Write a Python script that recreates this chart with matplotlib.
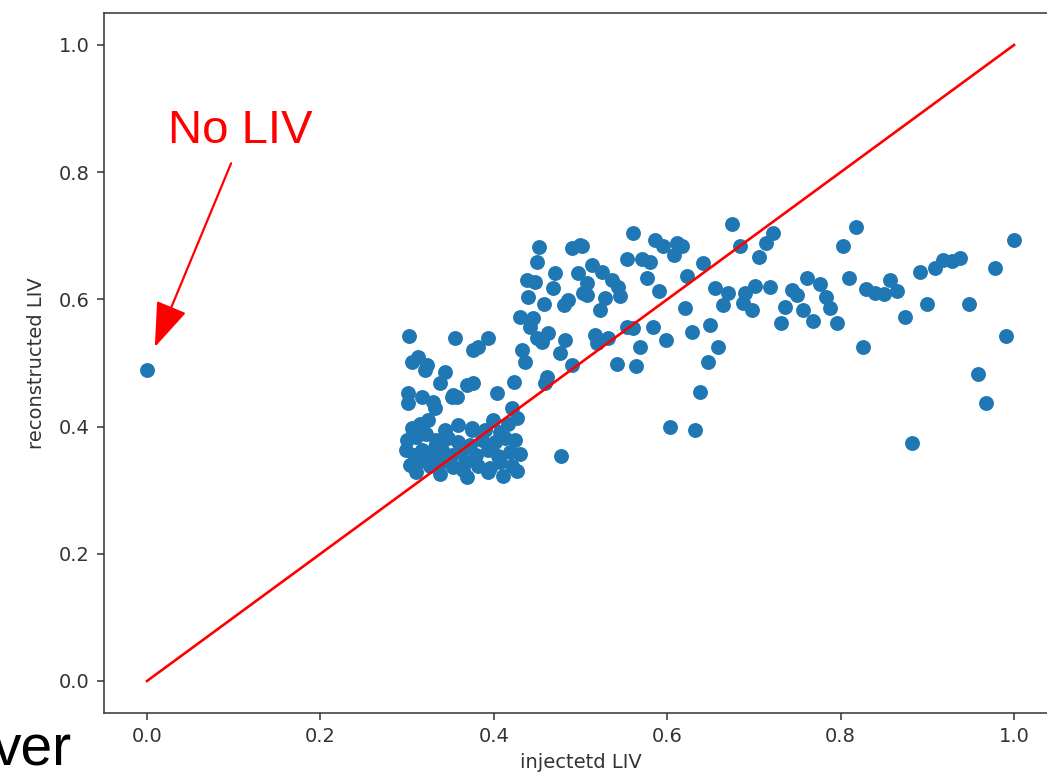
import matplotlib
matplotlib.use("Agg")
import matplotlib.pyplot as plt

# ---- data (injected LIV, reconstructed LIV) ----
x_outlier = [0.000]
y_outlier = [0.489]

x_right = [1.000, 0.978, 0.991, 0.958, 0.968, 0.948, 0.938, 0.928, 0.918, 0.909,
           0.892, 0.900, 0.874, 0.882, 0.857, 0.865, 0.850, 0.840, 0.829, 0.818,
           0.803, 0.810, 0.826, 0.722, 0.714, 0.706, 0.684, 0.701, 0.719, 0.690,
           0.698, 0.687, 0.761, 0.776, 0.744, 0.750, 0.736, 0.757, 0.783, 0.788,
           0.731, 0.768, 0.796]
y_right = [0.693, 0.649, 0.542, 0.483, 0.437, 0.593, 0.665, 0.660, 0.662, 0.649,
           0.643, 0.593, 0.572, 0.374, 0.631, 0.613, 0.608, 0.610, 0.616, 0.714,
           0.684, 0.634, 0.525, 0.704, 0.689, 0.667, 0.684, 0.621, 0.619, 0.610,
           0.583, 0.594, 0.634, 0.624, 0.615, 0.607, 0.588, 0.583, 0.604, 0.586,
           0.563, 0.566, 0.563]

x_mid = [0.675, 0.561, 0.586, 0.595, 0.611, 0.617, 0.608, 0.554, 0.571, 0.580,
         0.641, 0.623, 0.577, 0.591, 0.655, 0.670, 0.664, 0.621, 0.502, 0.513,
         0.525, 0.536, 0.543, 0.546, 0.507, 0.507, 0.528, 0.522, 0.554, 0.561,
         0.584, 0.629, 0.649, 0.599, 0.569, 0.659, 0.647, 0.542, 0.564, 0.517,
         0.519, 0.532, 0.638, 0.603, 0.632]
y_mid = [0.719, 0.704, 0.693, 0.684, 0.689, 0.684, 0.670, 0.664, 0.664, 0.659,
         0.657, 0.637, 0.634, 0.613, 0.618, 0.610, 0.591, 0.586, 0.684, 0.654,
         0.643, 0.631, 0.619, 0.605, 0.626, 0.607, 0.602, 0.583, 0.557, 0.555,
         0.557, 0.549, 0.560, 0.536, 0.525, 0.525, 0.502, 0.498, 0.495, 0.544,
         0.531, 0.539, 0.454, 0.399, 0.395]

x_upper = [0.452, 0.450, 0.490, 0.499, 0.471, 0.497, 0.438, 0.448, 0.468, 0.503,
           0.439, 0.458, 0.481, 0.486, 0.430, 0.445, 0.442, 0.463, 0.450, 0.456,
           0.482, 0.476, 0.433, 0.436, 0.355, 0.393, 0.376, 0.382, 0.490, 0.423,
           0.461, 0.459, 0.344, 0.369, 0.376, 0.404, 0.353, 0.478]
y_upper = [0.682, 0.659, 0.681, 0.686, 0.642, 0.642, 0.631, 0.627, 0.618, 0.610,
           0.604, 0.593, 0.591, 0.599, 0.572, 0.571, 0.557, 0.547, 0.539, 0.533,
           0.536, 0.516, 0.520, 0.502, 0.539, 0.539, 0.520, 0.525, 0.497, 0.470,
           0.478, 0.469, 0.486, 0.465, 0.469, 0.453, 0.450, 0.354]

x_low = [0.302, 0.313, 0.306, 0.323, 0.321, 0.338, 0.352, 0.358, 0.301, 0.301,
         0.317, 0.330, 0.332, 0.421, 0.427, 0.399, 0.375,
         0.306, 0.315, 0.324, 0.344, 0.407, 0.416,
         0.300, 0.310, 0.322, 0.333, 0.347, 0.359, 0.373, 0.386, 0.401, 0.413, 0.424,
         0.299, 0.308, 0.317, 0.329, 0.340, 0.352, 0.363, 0.379, 0.393, 0.405, 0.419, 0.430,
         0.303, 0.315, 0.326, 0.339, 0.353, 0.367, 0.382, 0.396, 0.407, 0.421,
         0.310, 0.338, 0.369, 0.393, 0.411, 0.427,
         0.307, 0.375, 0.390, 0.359, 0.332, 0.364]
y_low = [0.542, 0.509, 0.502, 0.497, 0.489, 0.469, 0.447, 0.447, 0.453, 0.437,
         0.447, 0.439, 0.429, 0.429, 0.414, 0.410, 0.395,
         0.398, 0.404, 0.410, 0.395, 0.392, 0.404,
         0.379, 0.384, 0.388, 0.379, 0.382, 0.376, 0.371, 0.379, 0.376, 0.382, 0.379,
         0.363, 0.355, 0.363, 0.354, 0.363, 0.355, 0.362, 0.355, 0.363, 0.354, 0.360, 0.357,
         0.340, 0.346, 0.338, 0.344, 0.336, 0.344, 0.338, 0.335, 0.344, 0.338,
         0.329, 0.325, 0.321, 0.329, 0.322, 0.330,
         0.390, 0.398, 0.395, 0.403, 0.368, 0.332]

x_values = x_outlier + x_right + x_mid + x_upper + x_low
y_values = y_outlier + y_right + y_mid + y_upper + y_low

line_x = [0.0, 1.0]
line_y = [0.0, 1.0]

x_ticks = [0.0, 0.2, 0.4, 0.6, 0.8, 1.0]
y_ticks = [0.0, 0.2, 0.4, 0.6, 0.8, 1.0]

# ---- figure ----
W, H = 1047, 780
fig = plt.figure(figsize=(W / 100, H / 100), dpi=100)
ax = fig.add_axes([103.65 / W, (780 - 712.8) / H, 953.7 / W, 699.6 / H])

ax.scatter(x_values, y_values, s=115, color='#1f77b4', linewidths=0, zorder=2)
ax.plot(line_x, line_y, color='red', linewidth=1.9, zorder=3)

ax.set_xlim(-0.05, 1.05)
ax.set_ylim(-0.05, 1.05)
ax.set_xticks(x_ticks)
ax.set_yticks(y_ticks)
ax.set_xticklabels([f"{t:.1f}" for t in x_ticks])
ax.set_yticklabels([f"{t:.1f}" for t in y_ticks])
ax.tick_params(labelsize=14, length=5, width=1.1, pad=5, colors='#333333',
               labelcolor='#333333')
for sp in ax.spines.values():
    sp.set_linewidth(1.1)
    sp.set_color('#333333')
ax.spines['right'].set_visible(False)

ax.set_xlabel("injectetd LIV", fontsize=14, color='#333333', labelpad=5)
ax.set_ylabel("reconstructed LIV", fontsize=14, color='#333333', labelpad=9)

# annotation
ax.annotate("", xy=(0.009, 0.525), xytext=(0.097, 0.814),
            xycoords='data', textcoords='data',
            arrowprops=dict(arrowstyle='-|>,head_length=2.8,head_width=1.0',
                            mutation_scale=10, color='red', linewidth=1.6,
                            shrinkA=0, shrinkB=0))
ax.text(0.024, 0.846, "No LIV", color='red', fontsize=34,
        family='Liberation Sans', ha='left', va='baseline')

fig.text(-7 / W, (780 - 765) / H, "ver", fontsize=41, family='Liberation Sans',
         color='black', ha='left', va='baseline')

fig.savefig("out.png", dpi=100)
